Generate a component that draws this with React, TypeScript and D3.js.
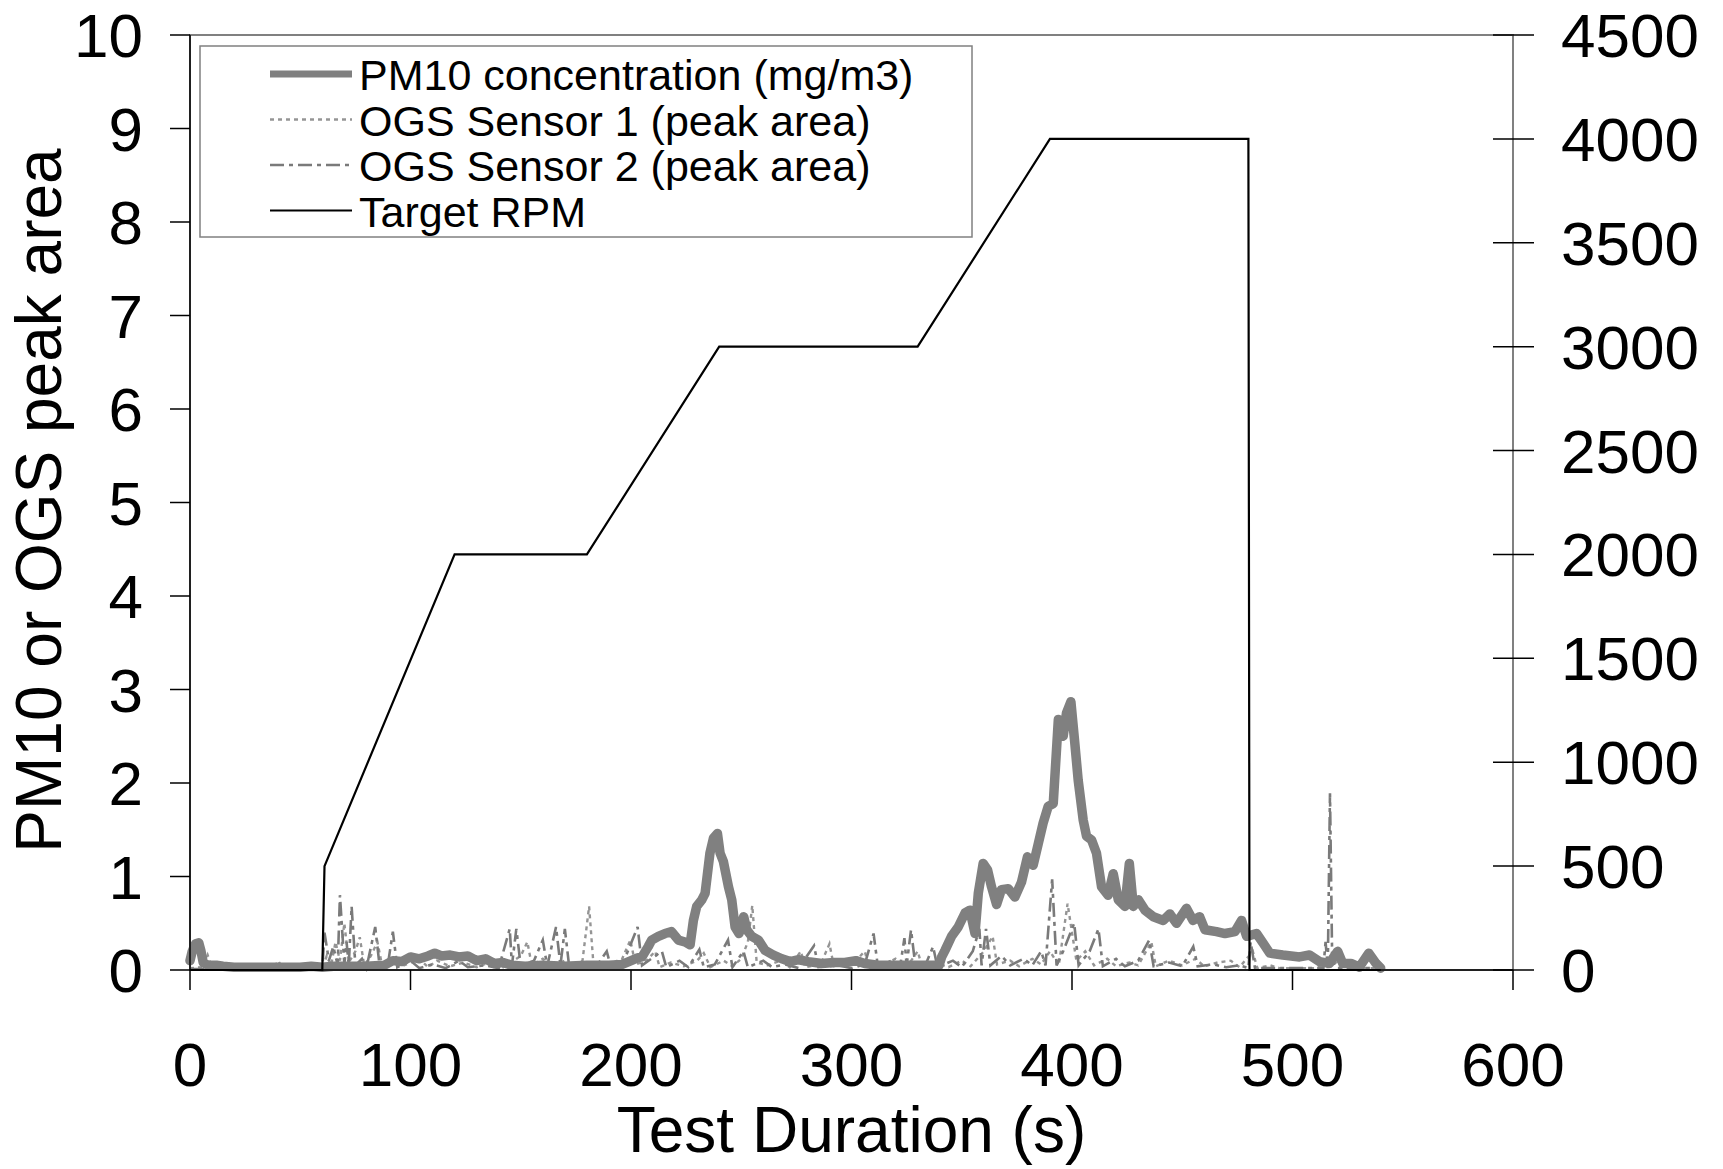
import React from "react";
import * as d3 from "d3";

// Engine test: PM10 concentration, OGS sensor peak areas and target RPM vs time

const RPM_TIME = [0, 60, 61, 120, 180, 240, 330, 390, 480, 480.5, 540];
const RPM_VALUE = [0, 0, 500, 2000, 2000, 3000, 3000, 4000, 4000, 0, 0];

const PM10: [number, number][] = [
  [0, 0.1], [1, 0.2], [2.5, 0.28], [4, 0.29], [5, 0.2], [6, 0.08], [8, 0.05], [12, 0.05], [15, 0.04],
  [20, 0.03], [30, 0.03], [40, 0.03], [50, 0.03], [55, 0.04], [60, 0.03], [65, 0.04], [70, 0.04],
  [80, 0.04], [88, 0.05], [92, 0.1], [96, 0.09], [100, 0.14], [104, 0.12], [108, 0.15], [111, 0.18],
  [114, 0.15], [118, 0.16], [122, 0.14], [126, 0.15], [130, 0.1], [134, 0.12], [138, 0.07], [142, 0.08],
  [146, 0.05], [152, 0.04], [160, 0.05], [170, 0.04], [180, 0.05], [190, 0.05], [196, 0.06], [199, 0.09],
  [203, 0.13], [205, 0.14], [207.8, 0.25], [209.4, 0.32], [212.4, 0.36], [215.4, 0.39], [218.4, 0.41],
  [221.5, 0.32], [224.5, 0.3], [226.8, 0.27], [228.3, 0.53], [229.8, 0.68], [232.1, 0.75], [233.6, 0.82],
  [235.8, 1.25], [237.4, 1.41], [239.2, 1.46], [240.4, 1.25], [241.9, 1.16], [244.2, 0.89], [245.7, 0.75],
  [247.2, 0.46], [249, 0.39], [251.1, 0.57], [252.5, 0.43], [254.8, 0.36], [257.8, 0.32], [260.8, 0.21],
  [264.6, 0.16], [268.4, 0.12], [272.2, 0.09], [276, 0.11], [280.4, 0.09], [286.5, 0.07], [292, 0.08],
  [297, 0.08], [302, 0.1], [306, 0.07], [312, 0.05], [320, 0.05], [330, 0.05], [339.7, 0.05], [340.9, 0.14],
  [342.4, 0.21], [345.4, 0.36], [348.4, 0.46], [351.5, 0.61], [353.7, 0.64], [356, 0.39], [357.5, 0.82],
  [359.7, 1.14], [361.7, 1.07], [363.5, 0.89], [365.8, 0.7], [368, 0.86], [371.1, 0.87], [374.1, 0.78],
  [377.1, 0.94], [379.8, 1.21], [382.4, 1.12], [384.7, 1.35], [386.9, 1.57], [389.2, 1.75], [391.5, 1.78],
  [393.8, 2.68], [396, 2.5], [397.5, 2.75], [399.5, 2.87], [401.3, 2.42], [402.8, 2.03], [405.1, 1.6],
  [406.6, 1.43], [408.9, 1.39], [411.1, 1.25], [413.4, 0.89], [416.4, 0.8], [418.7, 1.03], [421, 0.75],
  [424, 0.68], [426, 1.14], [427.8, 0.68], [430.1, 0.75], [433.1, 0.64], [436.9, 0.57], [441.4, 0.53],
  [444.4, 0.6], [447.4, 0.5], [451.9, 0.66], [454.9, 0.53], [457.9, 0.57], [460.3, 0.43], [465.5, 0.41],
  [469.4, 0.39], [473.9, 0.41], [476.9, 0.53], [479.2, 0.36], [483.7, 0.39], [486.6, 0.29], [489.7, 0.18],
  [495.6, 0.16], [503.2, 0.14], [507.7, 0.16], [512.2, 0.09], [516.7, 0.07], [520.5, 0.2], [522.8, 0.07],
  [526.5, 0.07], [530.3, 0.03], [534.6, 0.18], [537.9, 0.07], [540, 0.02],
];

const OGS_SENSOR_1: [number, number][] = [
  [0, 0.02], [6, 0.03], [8, 0.16], [10, 0.02], [38, 0.02], [40, 0.1], [42, 0.02], [60, 0.02], [62, 0.15],
  [64, 0.05], [66, 0.3], [68, 0.1], [70, 0.5], [72, 0.08], [75, 0.2], [77, 0.35], [79, 0.05], [82, 0.15],
  [85, 0.3], [87, 0.06], [92, 0.1], [96, 0.04], [104, 0.12], [108, 0.03], [112, 0.1], [118, 0.04],
  [124, 0.08], [130, 0.03], [138, 0.1], [142, 0.03], [150, 0.15], [153, 0.3], [155, 0.05], [160, 0.12],
  [164, 0.03], [170, 0.1], [174, 0.04], [178, 0.1], [181, 0.68], [183, 0.05], [190, 0.06], [196, 0.12],
  [199.7, 0.32], [202, 0.06], [207, 0.1], [211, 0.2], [213, 0.03], [218, 0.08], [224, 0.04], [230, 0.1],
  [233, 0.18], [236, 0.03], [242, 0.1], [246, 0.04], [250, 0.12], [253, 0.3], [255, 0.69], [257, 0.08],
  [262, 0.05], [268, 0.1], [272, 0.03], [277, 0.2], [279, 0.03], [286, 0.06], [290, 0.28], [292, 0.04],
  [298, 0.05], [302, 0.1], [306, 0.2], [308, 0.03], [315, 0.06], [320, 0.12], [325, 0.03], [330, 0.2],
  [332, 0.04], [338, 0.08], [344, 0.03], [350, 0.1], [354, 0.04], [360, 0.2], [364, 0.36], [366, 0.06],
  [372, 0.1], [376, 0.04], [382, 0.12], [386, 0.06], [390, 0.2], [394, 0.05], [398, 0.71], [400, 0.4],
  [402, 0.1], [406, 0.2], [410, 0.05], [416, 0.12], [420, 0.04], [426, 0.08], [430, 0.05], [436, 0.3],
  [438, 0.04], [444, 0.1], [450, 0.05], [456, 0.12], [460, 0.04], [466, 0.08], [472, 0.1], [476, 0.03],
  [482, 0.2], [484, 0.02], [490, 0.05], [494, 0.02], [510, 0.02], [520, 0.08], [522, 0.02], [540, 0.02],
];

const OGS_SENSOR_2: [number, number][] = [
  [0, 0.01], [60, 0.01], [61, 0.4], [63, 0.1], [65, 0.25], [67, 0.05], [68, 0.8], [70, 0.06], [71, 0.3],
  [72, 0.05], [73.3, 0.68], [75, 0.05], [78, 0.12], [80, 0.02], [84, 0.46], [86, 0.04], [90, 0.1],
  [92, 0.41], [94, 0.03], [100, 0.1], [104, 0.02], [110, 0.06], [116, 0.02], [122, 0.1], [126, 0.03],
  [134, 0.05], [140, 0.02], [145, 0.44], [146, 0.05], [148, 0.44], [150, 0.04], [156, 0.1], [160, 0.32],
  [162, 0.04], [166, 0.46], [168, 0.05], [170, 0.44], [172, 0.03], [176, 0.06], [184, 0.03], [189, 0.2],
  [191, 0.02], [196, 0.05], [203, 0.46], [205, 0.05], [214, 0.2], [216, 0.03], [222, 0.1], [226, 0.03],
  [231, 0.22], [233, 0.03], [238, 0.06], [244, 0.32], [246, 0.03], [251, 0.2], [253, 0.03], [260, 0.1],
  [264, 0.03], [270, 0.06], [276, 0.02], [283, 0.26], [285, 0.03], [294, 0.05], [300, 0.02], [306, 0.06],
  [310, 0.39], [312, 0.03], [318, 0.1], [322, 0.03], [324, 0.34], [325, 0.05], [327, 0.43], [329, 0.04],
  [334, 0.08], [337, 0.25], [339, 0.03], [346, 0.1], [350, 0.03], [355, 0.2], [358, 0.44], [359, 0.05],
  [361, 0.44], [363, 0.05], [368, 0.15], [372, 0.05], [378, 0.12], [382, 0.05], [386, 0.2], [388, 0.05],
  [391, 0.97], [393, 0.05], [396, 0.2], [401, 0.5], [403, 0.05], [408, 0.2], [412, 0.44], [414, 0.04],
  [420, 0.12], [424, 0.04], [430, 0.1], [435, 0.32], [437, 0.04], [444, 0.08], [450, 0.04], [455, 0.25],
  [457, 0.04], [464, 0.06], [470, 0.03], [476, 0.05], [480, 0.02], [481, 0.3], [483, 0.02], [500, 0.02],
  [514, 0.02], [515, 0.3], [516, 0.02], [517, 1.89], [518, 0.1], [520, 0.02], [540, 0.02],
];

const X_TICKS = [0, 100, 200, 300, 400, 500, 600];
const Y_LEFT_TICKS = [0, 1, 2, 3, 4, 5, 6, 7, 8, 9, 10];
const Y_RIGHT_TICKS = [0, 500, 1000, 1500, 2000, 2500, 3000, 3500, 4000, 4500];

const LEGEND_LABELS = [
  "PM10 concentration (mg/m3)",
  "OGS Sensor 1 (peak area)",
  "OGS Sensor 2 (peak area)",
  "Target RPM",
];

const FONT = "'Liberation Sans', Arial, Helvetica, sans-serif";

export default function App() {
  const W = 1723;
  const H = 1169;
  const left = 190, right = 1513, top = 35, bottom = 970;

  const x = d3.scaleLinear().domain([0, 600]).range([left, right]);
  const yL = d3.scaleLinear().domain([0, 10]).range([bottom, top]);
  const yR = d3.scaleLinear().domain([0, 4500]).range([bottom, top]);

  const lineL = d3.line<[number, number]>().x((d) => x(d[0])).y((d) => yL(d[1]));
  const rpmPts: [number, number][] = RPM_TIME.map((t, i) => [t, RPM_VALUE[i]]);
  const lineR = d3.line<[number, number]>().x((d) => x(d[0])).y((d) => yR(d[1]));

  const styles = [
    { stroke: "#808080", width: 9.5, dash: undefined as string | undefined },
    { stroke: "#959595", width: 2.4, dash: "4 4" },
    { stroke: "#7a7a7a", width: 2.6, dash: "14 5 4 5" },
    { stroke: "#000000", width: 2.2, dash: undefined as string | undefined },
  ];

  const tickFont = 62;
  const titleFont = 64;

  return (
    <svg
      width={W}
      height={H}
      viewBox={`0 0 ${W} ${H}`}
      style={{ position: "absolute", left: 0, top: 0, background: "#fff" }}
      fontFamily={FONT}
    >
      <rect x={0} y={0} width={W} height={H} fill="#fff" />

      {/* plot area border */}
      <rect x={left} y={top} width={right - left} height={bottom - top} fill="none" stroke="#808080" strokeWidth={2} />

      {/* series */}
      <path d={lineL(OGS_SENSOR_1) ?? ""} fill="none" stroke={styles[1].stroke} strokeWidth={styles[1].width} strokeDasharray={styles[1].dash} />
      <path d={lineL(OGS_SENSOR_2) ?? ""} fill="none" stroke={styles[2].stroke} strokeWidth={styles[2].width} strokeDasharray={styles[2].dash} />
      <path d={lineL(PM10) ?? ""} fill="none" stroke={styles[0].stroke} strokeWidth={styles[0].width} strokeLinejoin="round" strokeLinecap="round" />
      <path d={lineR(rpmPts) ?? ""} fill="none" stroke="#000" strokeWidth={styles[3].width} />

      {/* left axis */}
      <line x1={left} x2={left} y1={top} y2={bottom} stroke="#000" strokeWidth={1.5} />
      {Y_LEFT_TICKS.map((v) => (
        <g key={`yl${v}`}>
          <line x1={left - 20} x2={left} y1={yL(v)} y2={yL(v)} stroke="#000" strokeWidth={1.5} />
          <text x={143} y={yL(v) + 22} fontSize={tickFont} textAnchor="end" fill="#000">{v}</text>
        </g>
      ))}

      {/* right axis */}
      <line x1={right} x2={right} y1={top} y2={bottom} stroke="#808080" strokeWidth={2} />
      {Y_RIGHT_TICKS.map((v) => (
        <g key={`yr${v}`}>
          <line x1={right - 20} x2={right + 21} y1={yR(v)} y2={yR(v)} stroke="#000" strokeWidth={1.5} />
          <text x={1561} y={yR(v) + 22} fontSize={tickFont} textAnchor="start" fill="#000">{v}</text>
        </g>
      ))}

      {/* bottom axis */}
      <line x1={left} x2={right} y1={bottom} y2={bottom} stroke="#000" strokeWidth={1.5} />
      {X_TICKS.map((v) => (
        <g key={`x${v}`}>
          <line x1={x(v)} x2={x(v)} y1={bottom} y2={bottom + 20} stroke="#000" strokeWidth={1.5} />
          <text x={x(v)} y={1086} fontSize={tickFont} textAnchor="middle" fill="#000">{v}</text>
        </g>
      ))}

      {/* axis titles */}
      <text x={(left + right) / 2} y={1152} fontSize={titleFont} textAnchor="middle" fill="#000">
        Test Duration (s)
      </text>
      <text
        transform={`translate(61, ${(top + bottom) / 2 - 2}) rotate(-90)`}
        fontSize={titleFont}
        textAnchor="middle"
        fill="#000"
      >
        PM10 or OGS peak area
      </text>

      {/* legend */}
      <rect x={200} y={46} width={772} height={191} fill="#fff" stroke="#808080" strokeWidth={1.5} />
      {LEGEND_LABELS.map((label, i) => {
        const base = 90 + i * 45.5;
        const ly = base - 16;
        const s = styles[i];
        return (
          <g key={label}>
            <line x1={270} x2={352} y1={ly} y2={ly} stroke={s.stroke} strokeWidth={i === 0 ? 7 : s.width} strokeDasharray={s.dash} />
            <text x={359} y={base} fontSize={43} fill="#000">{label}</text>
          </g>
        );
      })}
    </svg>
  );
}
